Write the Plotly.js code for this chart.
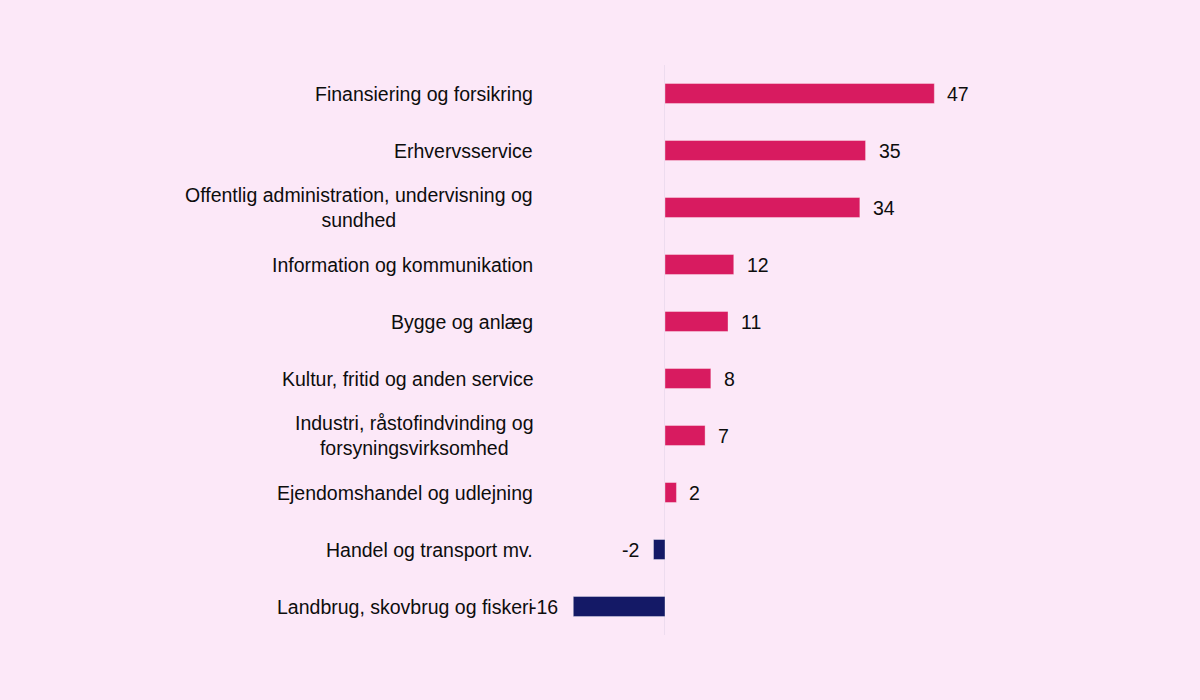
<!DOCTYPE html>
<html>
<head>
<meta charset="utf-8">
<script src="https://cdn.plot.ly/plotly-3.0.1.min.js"></script>
<style>html,body{margin:0;padding:0;background:#fce8f8;}</style>
</head>
<body>
<div id="chart" style="width:1200px;height:700px;"></div>
<script>
const categories = [
  "Finansiering og forsikring",
  "Erhvervsservice",
  "Offentlig administration, undervisning og<br>sundhed",
  "Information og kommunikation",
  "Bygge og anlæg",
  "Kultur, fritid og anden service",
  "Industri, råstofindvinding og<br>forsyningsvirksomhed",
  "Ejendomshandel og udlejning",
  "Handel og transport mv.",
  "Landbrug, skovbrug og fiskeri"
];
const values = [47, 35, 34, 12, 11, 8, 7, 2, -2, -16];
const valueLabels = ["47", "35", "34", "12", "11", "8", "7", "2", "-2", "-16"];

const POS = '#d81b60', NEG = '#141966';
const FONT = 'Liberation Sans, Arial, sans-serif';

const trace = {
  type: 'bar',
  orientation: 'h',
  y: categories,
  x: values,
  marker: {
    color: values.map(v => v >= 0 ? POS : NEG),
    line: {color: 'rgba(255,255,255,0.35)', width: 1}
  },
  hoverinfo: 'x+y'
};

const annotations = [];
categories.forEach((c, i) => {
  annotations.push({
    xref: 'paper', yref: 'y', x: 0, y: c, xshift: -25,
    xanchor: 'right', yanchor: 'middle', align: 'center',
    text: c, showarrow: false,
    font: {family: FONT, size: 19.5, color: '#0d0d0d'}
  });
  const v = values[i];
  annotations.push({
    xref: 'x', yref: 'y', x: v, y: c,
    xshift: v >= 0 ? 11 : -13,
    xanchor: v >= 0 ? 'left' : 'right', yanchor: 'middle',
    text: valueLabels[i], showarrow: false,
    font: {family: FONT, size: 19.5, color: '#0d0d0d'}
  });
});

const layout = {
  width: 1200, height: 700,
  paper_bgcolor: '#fce8f8', plot_bgcolor: '#fce8f8',
  margin: {l: 560, r: 200, t: 65, b: 65},
  bargap: 0.65,
  showlegend: false,
  font: {family: FONT, size: 19.5, color: '#0d0d0d'},
  xaxis: {
    range: [-18.32, 58.46],
    showgrid: false, zeroline: true, zerolinecolor: '#eddcef', zerolinewidth: 1,
    showticklabels: false, ticks: '', showline: false, fixedrange: true
  },
  yaxis: {
    type: 'category', autorange: 'reversed',
    showgrid: false, zeroline: false, showticklabels: false, ticks: '', showline: false, fixedrange: true
  },
  annotations: annotations
};

Plotly.newPlot('chart', [trace], layout, {displayModeBar: false});
</script>
</body>
</html>
